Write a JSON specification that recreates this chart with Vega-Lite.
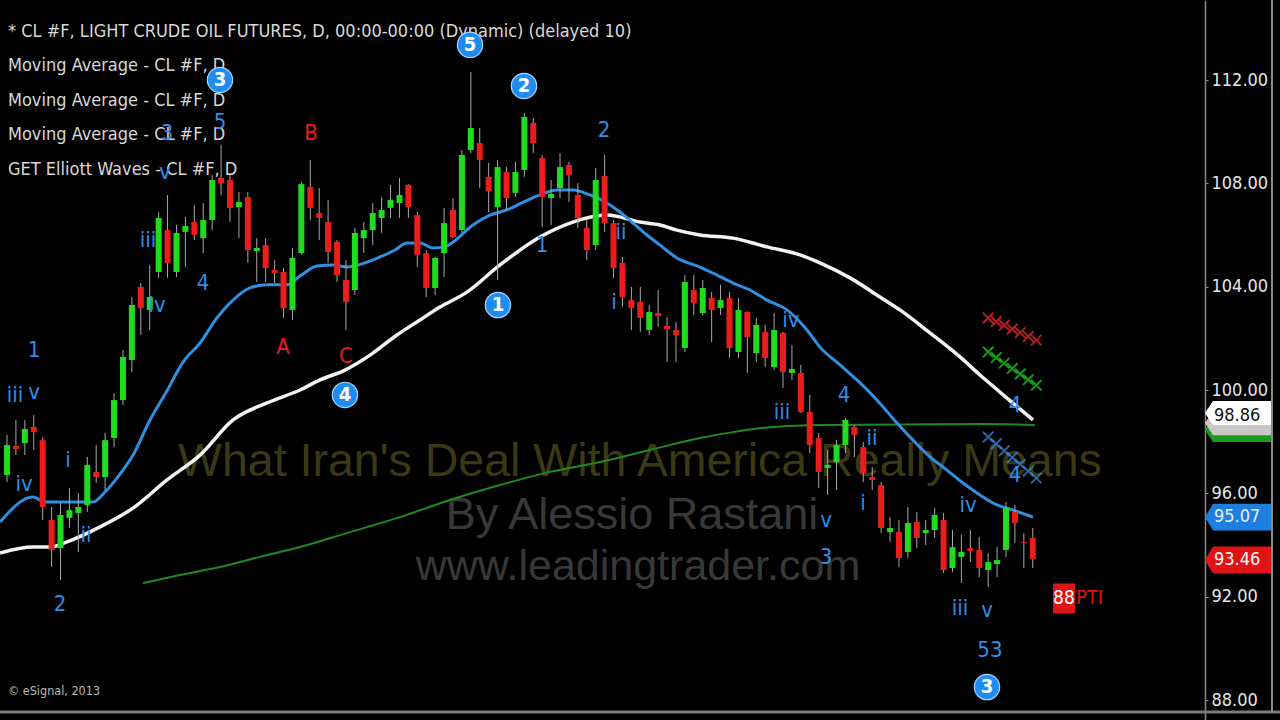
{
"$schema": "https://vega.github.io/schema/vega-lite/v6.json",
"width": 1205, "height": 720,
"autosize": {"type": "none"},
"padding": {"left": 0, "top": 0, "right": 75, "bottom": 0},
"background": "#000000",
"config": {"view": {"stroke": null}},
"resolve": {"axis": {"y": "independent", "x": "independent"}, "scale": {"color": "independent"}},
"datasets": {
"candles": [
{"i":0,"o":96.71,"h":98.26,"l":96.44,"c":97.87},{"i":1,"o":97.83,"h":98.84,"l":97.48,"c":97.72},{"i":2,"o":97.95,"h":98.84,"l":97.48,"c":98.49},{"i":3,"o":98.57,"h":99.03,"l":97.68,"c":98.37},{"i":4,"o":98.06,"h":98.18,"l":94.97,"c":95.47},{"i":5,"o":94.97,"h":95.47,"l":93.15,"c":93.81},{"i":6,"o":93.88,"h":95.63,"l":92.65,"c":95.16},{"i":7,"o":95.05,"h":96.21,"l":94.66,"c":95.35},{"i":8,"o":95.24,"h":96.01,"l":93.73,"c":95.47},{"i":9,"o":95.55,"h":97.41,"l":95.28,"c":97.10},
{"i":10,"o":96.83,"h":97.87,"l":96.40,"c":96.63},{"i":11,"o":96.63,"h":98.34,"l":96.13,"c":98.06},{"i":12,"o":98.14,"h":99.88,"l":97.79,"c":99.61},{"i":13,"o":99.61,"h":101.55,"l":99.42,"c":101.28},{"i":14,"o":101.16,"h":103.60,"l":100.70,"c":103.29},{"i":15,"o":103.99,"h":104.14,"l":102.13,"c":103.17},{"i":16,"o":103.10,"h":104.84,"l":102.32,"c":103.60},{"i":17,"o":104.57,"h":106.89,"l":104.34,"c":106.66},{"i":18,"o":106.19,"h":107.55,"l":104.34,"c":104.92},{"i":19,"o":104.57,"h":106.39,"l":104.37,"c":106.08},
{"i":20,"o":106.12,"h":106.70,"l":104.76,"c":106.35},{"i":21,"o":106.50,"h":107.16,"l":105.81,"c":106.00},{"i":22,"o":105.88,"h":107.24,"l":105.30,"c":106.58},{"i":23,"o":106.58,"h":108.32,"l":106.19,"c":108.13},{"i":24,"o":108.21,"h":109.48,"l":107.55,"c":108.01},{"i":25,"o":108.13,"h":108.32,"l":106.50,"c":107.05},{"i":26,"o":107.08,"h":107.67,"l":105.88,"c":107.28},{"i":27,"o":107.47,"h":107.67,"l":104.92,"c":105.42},{"i":28,"o":105.38,"h":105.88,"l":104.18,"c":105.50},{"i":29,"o":105.61,"h":105.88,"l":104.18,"c":104.72},
{"i":30,"o":104.65,"h":105.03,"l":104.14,"c":104.53},{"i":31,"o":104.57,"h":104.72,"l":102.79,"c":103.17},{"i":32,"o":103.10,"h":105.50,"l":102.71,"c":105.11},{"i":33,"o":105.30,"h":108.05,"l":105.23,"c":107.97},{"i":34,"o":107.86,"h":108.90,"l":106.58,"c":107.05},{"i":35,"o":106.85,"h":107.82,"l":105.81,"c":106.66},{"i":36,"o":106.50,"h":107.36,"l":104.92,"c":105.34},{"i":37,"o":105.73,"h":105.81,"l":104.18,"c":104.45},{"i":38,"o":104.26,"h":105.03,"l":102.32,"c":103.41},{"i":39,"o":103.87,"h":106.27,"l":103.68,"c":106.08},
{"i":40,"o":105.88,"h":106.50,"l":105.30,"c":106.19},{"i":41,"o":106.19,"h":107.24,"l":105.61,"c":106.85},{"i":42,"o":106.66,"h":107.47,"l":106.08,"c":106.97},{"i":43,"o":107.05,"h":107.94,"l":106.66,"c":107.36},{"i":44,"o":107.24,"h":108.21,"l":106.66,"c":107.55},{"i":45,"o":107.94,"h":107.97,"l":106.66,"c":107.08},{"i":46,"o":106.77,"h":106.89,"l":104.76,"c":105.23},{"i":47,"o":105.30,"h":105.42,"l":103.60,"c":103.95},{"i":48,"o":103.95,"h":105.15,"l":103.68,"c":105.11},{"i":49,"o":105.30,"h":107.05,"l":104.37,"c":106.46},
{"i":50,"o":106.97,"h":107.43,"l":105.88,"c":105.92},{"i":51,"o":106.19,"h":109.29,"l":106.08,"c":109.10},{"i":52,"o":109.29,"h":112.31,"l":109.17,"c":110.14},{"i":53,"o":109.56,"h":110.14,"l":107.82,"c":108.90},{"i":54,"o":108.25,"h":108.79,"l":106.89,"c":107.70},{"i":55,"o":107.08,"h":108.90,"l":104.26,"c":108.63},{"i":56,"o":108.44,"h":108.63,"l":106.97,"c":107.43},{"i":57,"o":107.63,"h":108.83,"l":107.47,"c":108.44},{"i":58,"o":108.52,"h":110.72,"l":108.25,"c":110.57},{"i":59,"o":110.34,"h":110.53,"l":109.17,"c":109.56},
{"i":60,"o":108.98,"h":109.10,"l":106.31,"c":107.47},{"i":61,"o":107.43,"h":108.13,"l":106.39,"c":107.59},{"i":62,"o":107.82,"h":109.17,"l":107.43,"c":108.63},{"i":63,"o":108.71,"h":108.83,"l":107.28,"c":108.32},{"i":64,"o":107.55,"h":108.01,"l":106.27,"c":106.66},{"i":65,"o":106.27,"h":106.58,"l":105.03,"c":105.42},{"i":66,"o":105.61,"h":108.59,"l":105.42,"c":108.13},{"i":67,"o":108.28,"h":109.10,"l":106.12,"c":106.46},{"i":68,"o":106.46,"h":106.58,"l":104.34,"c":104.72},{"i":69,"o":104.92,"h":105.15,"l":103.21,"c":103.60},
{"i":70,"o":103.48,"h":103.99,"l":102.32,"c":103.17},{"i":71,"o":103.41,"h":103.99,"l":102.25,"c":102.79},{"i":72,"o":102.32,"h":103.29,"l":102.13,"c":103.02},{"i":73,"o":102.98,"h":103.87,"l":102.44,"c":102.86},{"i":74,"o":102.48,"h":102.83,"l":101.08,"c":102.36},{"i":75,"o":102.32,"h":102.63,"l":101.08,"c":102.13},{"i":76,"o":101.63,"h":104.45,"l":101.47,"c":104.18},{"i":77,"o":103.87,"h":104.45,"l":102.90,"c":103.37},{"i":78,"o":102.98,"h":104.26,"l":102.90,"c":103.95},{"i":79,"o":103.56,"h":103.79,"l":101.86,"c":103.10},
{"i":80,"o":103.17,"h":104.07,"l":102.90,"c":103.48},{"i":81,"o":103.56,"h":103.79,"l":101.24,"c":101.63},{"i":82,"o":101.47,"h":103.56,"l":101.24,"c":103.10},{"i":83,"o":103.02,"h":103.05,"l":100.66,"c":102.05},{"i":84,"o":101.43,"h":102.79,"l":101.08,"c":102.52},{"i":85,"o":102.25,"h":102.52,"l":100.89,"c":101.24},{"i":86,"o":100.89,"h":102.98,"l":100.77,"c":102.32},{"i":87,"o":102.21,"h":102.25,"l":100.08,"c":100.70},{"i":88,"o":100.66,"h":101.74,"l":100.39,"c":100.81},{"i":89,"o":100.66,"h":100.97,"l":99.11,"c":99.15},
{"i":90,"o":99.15,"h":99.81,"l":97.56,"c":97.87},{"i":91,"o":98.14,"h":98.34,"l":96.21,"c":96.83},{"i":92,"o":96.98,"h":97.68,"l":95.94,"c":97.10},{"i":93,"o":97.21,"h":98.06,"l":96.13,"c":97.87},{"i":94,"o":97.87,"h":98.92,"l":97.56,"c":98.84},{"i":95,"o":98.57,"h":98.65,"l":97.41,"c":98.26},{"i":96,"o":97.79,"h":97.99,"l":96.44,"c":96.79},{"i":97,"o":96.63,"h":97.02,"l":96.13,"c":96.52},{"i":98,"o":96.32,"h":96.44,"l":94.46,"c":94.66},{"i":99,"o":94.50,"h":95.08,"l":94.12,"c":94.66},
{"i":100,"o":94.50,"h":94.97,"l":93.15,"c":93.50},{"i":101,"o":93.73,"h":95.47,"l":93.50,"c":94.85},{"i":102,"o":94.89,"h":95.28,"l":93.88,"c":94.27},{"i":103,"o":94.46,"h":94.97,"l":94.00,"c":94.58},{"i":104,"o":94.58,"h":95.43,"l":94.27,"c":95.16},{"i":105,"o":94.97,"h":95.24,"l":92.92,"c":93.03},{"i":106,"o":93.11,"h":94.58,"l":92.95,"c":93.92},{"i":107,"o":93.54,"h":94.39,"l":92.53,"c":93.73},{"i":108,"o":93.88,"h":94.58,"l":93.34,"c":93.77},{"i":109,"o":93.81,"h":94.31,"l":92.76,"c":93.11},
{"i":110,"o":93.03,"h":93.69,"l":92.37,"c":93.34},{"i":111,"o":93.26,"h":93.92,"l":92.76,"c":93.42},{"i":112,"o":93.81,"h":95.66,"l":93.54,"c":95.43},{"i":113,"o":95.28,"h":95.55,"l":94.08,"c":94.85},{"i":114,"o":94.12,"h":94.46,"l":93.11,"c":94.08},{"i":115,"o":94.27,"h":94.66,"l":93.11,"c":93.46}
],
"blue": [
{"i":-0.78,"v":94.89},{"i":2.91,"v":95.86},{"i":4.26,"v":95.66},{"i":9.64,"v":95.66},{"i":10.99,"v":96.05},{"i":12.33,"v":96.59},{"i":14.13,"v":97.48},{"i":16.03,"v":98.84},{"i":17.94,"v":99.97},{"i":19.73,"v":101.08},{"i":21.64,"v":101.82},{"i":23.54,"v":102.79},{"i":25.34,"v":103.48},{"i":27.24,"v":103.95},{"i":29.15,"v":104.07},{"i":31.39,"v":104.07},{"i":32.85,"v":104.41},{"i":34.75,"v":104.80},{"i":36.55,"v":104.84},{"i":38.12,"v":104.76},{"i":40.13,"v":104.92},{"i":41.82,"v":105.15},{"i":43.50,"v":105.42},{"i":44.84,"v":105.69},{"i":46.30,"v":105.69},{"i":47.76,"v":105.50},{"i":49.10,"v":105.54},{"i":50.0,"v":105.73},{"i":52.24,"v":106.39},{"i":54.15,"v":106.77},{"i":56.05,"v":106.97},{"i":57.96,"v":107.28},{"i":59.75,"v":107.55},{"i":61.66,"v":107.74},{"i":63.45,"v":107.74},{"i":65.36,"v":107.55},{"i":67.26,"v":107.24},{"i":68.72,"v":106.89},{"i":70.18,"v":106.46},{"i":71.75,"v":106.00},{"i":73.21,"v":105.61},{"i":75.11,"v":105.11},{"i":77.69,"v":104.76},{"i":79.60,"v":104.45},{"i":81.39,"v":104.14},{"i":83.30,"v":103.87},{"i":85.20,"v":103.48},{"i":87.44,"v":103.10},{"i":89.69,"v":102.32},{"i":91.14,"v":101.66},{"i":93.39,"v":100.97},{"i":95.29,"v":100.39},{"i":97.53,"v":99.61},{"i":99.78,"v":98.72},{"i":101.57,"v":98.06},{"i":103.48,"v":97.41},{"i":105.38,"v":96.90},{"i":107.17,"v":96.40},{"i":109.08,"v":95.94},{"i":110.99,"v":95.55},{"i":112.44,"v":95.39},{"i":115.02,"v":95.08}
],
"white": [
{"i":-0.78,"v":93.69},{"i":2.91,"v":93.92},{"i":4.82,"v":93.92},{"i":6.73,"v":94.12},{"i":10.43,"v":94.70},{"i":14.13,"v":95.43},{"i":17.94,"v":96.52},{"i":21.64,"v":97.48},{"i":25.34,"v":98.84},{"i":29.15,"v":99.50},{"i":32.85,"v":100.00},{"i":35.09,"v":100.39},{"i":37.89,"v":100.77},{"i":40.70,"v":101.35},{"i":43.72,"v":102.13},{"i":46.30,"v":102.71},{"i":48.54,"v":103.21},{"i":51.57,"v":103.79},{"i":55.27,"v":104.84},{"i":59.75,"v":105.92},{"i":63.45,"v":106.50},{"i":67.26,"v":106.77},{"i":70.96,"v":106.50},{"i":73.21,"v":106.39},{"i":75.11,"v":106.19},{"i":77.69,"v":106.00},{"i":81.39,"v":105.88},{"i":85.20,"v":105.54},{"i":88.90,"v":105.23},{"i":91.14,"v":104.92},{"i":94.51,"v":104.34},{"i":97.87,"v":103.60},{"i":100.11,"v":103.10},{"i":103.48,"v":102.21},{"i":106.84,"v":101.28},{"i":109.08,"v":100.58},{"i":111.32,"v":99.92},{"i":115.02,"v":98.84}
],
"green": [
{"i":15.25,"v":92.53},{"i":19.39,"v":92.84},{"i":23.88,"v":93.15},{"i":28.36,"v":93.54},{"i":32.85,"v":93.92},{"i":38.45,"v":94.50},{"i":44.06,"v":95.08},{"i":49.66,"v":95.74},{"i":55.27,"v":96.32},{"i":60.87,"v":96.83},{"i":66.48,"v":97.21},{"i":72.09,"v":97.68},{"i":77.69,"v":98.14},{"i":81.39,"v":98.37},{"i":85.87,"v":98.57},{"i":91.14,"v":98.65},{"i":109.08,"v":98.68},{"i":115.25,"v":98.65}
],
"waveBlue": [
{"i":3.03,"p":101.55,"t":"1"},{"i":0.90,"p":99.81,"t":"iii"},{"i":3.03,"p":99.92,"t":"v"},{"i":1.91,"p":96.36,"t":"iv"},{"i":6.84,"p":97.29,"t":"i"},{"i":8.86,"p":94.39,"t":"ii"},{"i":5.94,"p":91.72,"t":"2"},{"i":15.81,"p":105.81,"t":"iii"},{"i":16.82,"p":103.29,"t":"iv"},{"i":21.97,"p":104.14,"t":"4"},{"i":17.94,"p":109.95,"t":"3"},{"i":23.88,"p":110.37,"t":"5"},{"i":17.71,"p":108.44,"t":"v"},{"i":66.93,"p":110.06,"t":"2"},{"i":59.98,"p":105.61,"t":"1"},{"i":68.83,"p":106.12,"t":"ii"},{"i":68.05,"p":103.41,"t":"i"},{"i":87.89,"p":102.71,"t":"iv"},{"i":86.88,"p":99.15,"t":"iii"},{"i":93.83,"p":99.81,"t":"4"},{"i":96.97,"p":98.14,"t":"ii"},{"i":95.96,"p":95.63,"t":"i"},{"i":91.82,"p":94.97,"t":"v"},{"i":91.82,"p":93.54,"t":"3"},{"i":107.74,"p":95.55,"t":"iv"},{"i":106.84,"p":91.56,"t":"iii"},{"i":109.87,"p":91.48,"t":"v"},{"i":110.20,"p":89.93,"t":"53"},{"i":113.0,"p":99.42,"t":"4"},{"i":113.0,"p":96.71,"t":"4"}
],
"waveRed": [
{"i":34.08,"p":109.95,"t":"B"},{"i":30.94,"p":101.66,"t":"A"},{"i":38.0,"p":101.32,"t":"C"}
],
"circles": [
{"i":23.88,"p":112.0,"t":"3"},{"i":51.91,"p":113.36,"t":"5"},{"i":57.96,"p":111.77,"t":"2"},{"i":55.04,"p":103.29,"t":"1"},{"i":37.89,"p":99.81,"t":"4"},{"i":109.87,"p":88.50,"t":"3"}
],
"crosses": [
{"i":110.0,"p":102.79,"s":"r"},{"i":110.9,"p":102.65,"s":"r"},{"i":111.8,"p":102.51,"s":"r"},{"i":112.7,"p":102.36,"s":"r"},{"i":113.6,"p":102.22,"s":"r"},{"i":114.5,"p":102.07,"s":"r"},{"i":115.4,"p":101.93,"s":"r"},
{"i":110.0,"p":101.47,"s":"g"},{"i":110.9,"p":101.26,"s":"g"},{"i":111.8,"p":101.04,"s":"g"},{"i":112.7,"p":100.83,"s":"g"},{"i":113.6,"p":100.62,"s":"g"},{"i":114.5,"p":100.40,"s":"g"},{"i":115.4,"p":100.19,"s":"g"},
{"i":110.0,"p":98.18,"s":"b"},{"i":110.9,"p":97.92,"s":"b"},{"i":111.8,"p":97.65,"s":"b"},{"i":112.7,"p":97.39,"s":"b"},{"i":113.6,"p":97.12,"s":"b"},{"i":114.5,"p":96.86,"s":"b"},{"i":115.4,"p":96.59,"s":"b"}
]
},
"layer": [
{"data": {"values": [{}]},
 "mark": {"type": "text", "align": "left", "baseline": "alphabetic", "font": "DejaVu Sans Condensed, Liberation Sans, sans-serif", "fontSize": 18, "lineHeight": 34.5, "color": "#d8d8d8"},
 "encoding": {"x": {"datum": 0.11, "type": "quantitative", "scale": {"domain": [-0.785, 134.31], "nice": false, "zero": false, "padding": 0}, "axis": null},
  "y": {"datum": 113.684, "type": "quantitative", "scale": {"domain": [87.226, 115.097], "nice": false, "zero": false, "padding": 0}, "axis": null},
  "text": {"value": ["* CL #F, LIGHT CRUDE OIL FUTURES, D, 00:00-00:00 (Dynamic) (delayed 10)", "Moving Average - CL #F, D", "Moving Average - CL #F, D", "Moving Average - CL #F, D", "GET Elliott Waves - CL #F, D"]}}},
{"data": {"values": [{}]},
 "mark": {"type": "text", "align": "center", "baseline": "middle", "font": "Liberation Sans, Arial, sans-serif", "fontSize": 46.5, "color": "#3b3915"},
 "encoding": {"x": {"datum": 70.96, "type": "quantitative", "axis": null}, "y": {"datum": 97.21, "type": "quantitative", "axis": null}, "text": {"value": "What Iran's Deal With America Really Means"}}},
{"data": {"values": [{}]},
 "mark": {"type": "text", "align": "center", "baseline": "middle", "font": "Liberation Sans, Arial, sans-serif", "fontSize": 45, "color": "#383838"},
 "encoding": {"x": {"datum": 70.07, "type": "quantitative", "axis": null}, "y": {"datum": 95.16, "type": "quantitative", "axis": null}, "text": {"value": "By Alessio Rastani"}}},
{"data": {"values": [{}]},
 "mark": {"type": "text", "align": "center", "baseline": "middle", "font": "Liberation Sans, Arial, sans-serif", "fontSize": 43, "color": "#383838"},
 "encoding": {"x": {"datum": 70.74, "type": "quantitative", "axis": null}, "y": {"datum": 93.15, "type": "quantitative", "axis": null}, "text": {"value": "www.leadingtrader.com"}}},
{"data": {"name": "green"},
 "mark": {"type": "line", "color": "#1f8a1f", "strokeWidth": 2, "interpolate": "monotone"},
 "encoding": {"x": {"field": "i", "type": "quantitative", "axis": null}, "y": {"field": "v", "type": "quantitative", "axis": null}}},
{"data": {"name": "white"},
 "mark": {"type": "line", "color": "#f2f2f2", "strokeWidth": 3.5, "interpolate": "monotone"},
 "encoding": {"x": {"field": "i", "type": "quantitative", "axis": null}, "y": {"field": "v", "type": "quantitative", "axis": null}}},
{"data": {"name": "blue"},
 "mark": {"type": "line", "color": "#2f8fe0", "strokeWidth": 3, "interpolate": "monotone"},
 "encoding": {"x": {"field": "i", "type": "quantitative", "axis": null}, "y": {"field": "v", "type": "quantitative", "axis": null}}},
{"data": {"name": "candles"},
 "mark": {"type": "rule", "color": "#a8a8a8", "strokeWidth": 1},
 "encoding": {"x": {"field": "i", "type": "quantitative", "axis": null},
  "y": {"field": "l", "type": "quantitative", "axis": {"orient": "right", "values": [88, 92, 96, 100, 104, 108, 112], "format": ".2f", "title": null, "grid": false, "domainColor": "#8a8a8a", "domainWidth": 1.5, "tickColor": "#8a8a8a", "tickSize": 3, "labelPadding": 3, "labelColor": "#e6e6e6", "labelFontSize": 18, "labelFont": "DejaVu Sans Condensed, Liberation Sans, sans-serif"}},
  "y2": {"field": "h"}}},
{"data": {"name": "candles"},
 "mark": {"type": "bar", "width": 6},
 "encoding": {"x": {"field": "i", "type": "quantitative", "scale": {"padding": 0}, "axis": null},
  "y": {"field": "o", "type": "quantitative", "axis": null}, "y2": {"field": "c"},
  "color": {"condition": {"test": "datum.c >= datum.o", "value": "#1fdc1f"}, "value": "#ec1c1c"}}},
{"data": {"name": "crosses"},
 "mark": {"type": "point", "shape": "M-1,-1L1,1M-1,1L1,-1", "filled": false, "size": 110, "strokeWidth": 2},
 "encoding": {"x": {"field": "i", "type": "quantitative", "axis": null}, "y": {"field": "p", "type": "quantitative", "axis": null},
  "color": {"field": "s", "type": "nominal", "scale": {"domain": ["r", "g", "b"], "range": ["#ff2a2a", "#22dd22", "#3a8fe8"]}, "legend": null}}},
{"data": {"name": "waveBlue"},
 "mark": {"type": "text", "align": "center", "baseline": "middle", "font": "DejaVu Sans Condensed, Liberation Sans, sans-serif", "fontSize": 22, "color": "#2f8fea"},
 "encoding": {"x": {"field": "i", "type": "quantitative", "axis": null}, "y": {"field": "p", "type": "quantitative", "axis": null}, "text": {"field": "t"}}},
{"data": {"name": "waveRed"},
 "mark": {"type": "text", "align": "center", "baseline": "middle", "font": "DejaVu Sans Condensed, Liberation Sans, sans-serif", "fontSize": 22, "color": "#e81c1c"},
 "encoding": {"x": {"field": "i", "type": "quantitative", "axis": null}, "y": {"field": "p", "type": "quantitative", "axis": null}, "text": {"field": "t"}}},
{"data": {"name": "circles"},
 "mark": {"type": "point", "shape": "circle", "filled": true, "size": 640, "color": "#1e8cf0", "stroke": "#a8d6ff", "strokeWidth": 1.2, "opacity": 1},
 "encoding": {"x": {"field": "i", "type": "quantitative", "axis": null}, "y": {"field": "p", "type": "quantitative", "axis": null}}},
{"data": {"name": "circles"},
 "mark": {"type": "text", "align": "center", "baseline": "middle", "font": "DejaVu Sans Condensed, Liberation Sans, sans-serif", "fontSize": 20, "fontWeight": "bold", "color": "#ffffff"},
 "encoding": {"x": {"field": "i", "type": "quantitative", "axis": null}, "y": {"field": "p", "type": "quantitative", "axis": null}, "text": {"field": "t"}}},
{"data": {"values": [{}]},
 "mark": {"type": "point", "shape": "M-1,0L-0.76,-0.36L1,-0.36L1,0.36L-0.76,0.36Z", "filled": true, "size": 4489, "color": "#1c9a1c", "opacity": 1},
 "encoding": {"x": {"datum": 138.06, "type": "quantitative", "axis": null}, "y": {"datum": 98.45, "type": "quantitative", "axis": null}}},
{"data": {"values": [{}]},
 "mark": {"type": "point", "shape": "M-1,0L-0.76,-0.36L1,-0.36L1,0.36L-0.76,0.36Z", "filled": true, "size": 4489, "color": "#c8c8c8", "opacity": 1},
 "encoding": {"x": {"datum": 138.06, "type": "quantitative", "axis": null}, "y": {"datum": 98.72, "type": "quantitative", "axis": null}}},
{"data": {"values": [{}]},
 "mark": {"type": "point", "shape": "M-1,0L-0.76,-0.36L1,-0.36L1,0.36L-0.76,0.36Z", "filled": true, "size": 4489, "color": "#ffffff", "opacity": 1},
 "encoding": {"x": {"datum": 138.06, "type": "quantitative", "axis": null}, "y": {"datum": 99.11, "type": "quantitative", "axis": null}}},
{"data": {"values": [{}]},
 "mark": {"type": "point", "shape": "M-1,0L-0.76,-0.4L1,-0.4L1,0.4L-0.76,0.4Z", "filled": true, "size": 4489, "color": "#1e7fe0", "opacity": 1},
 "encoding": {"x": {"datum": 138.06, "type": "quantitative", "axis": null}, "y": {"datum": 95.08, "type": "quantitative", "axis": null}}},
{"data": {"values": [{}]},
 "mark": {"type": "point", "shape": "M-1,0L-0.76,-0.4L1,-0.4L1,0.4L-0.76,0.4Z", "filled": true, "size": 4489, "color": "#e01414", "opacity": 1},
 "encoding": {"x": {"datum": 138.06, "type": "quantitative", "axis": null}, "y": {"datum": 93.42, "type": "quantitative", "axis": null}}},
{"data": {"values": [{}]},
 "mark": {"type": "text", "align": "left", "baseline": "middle", "font": "DejaVu Sans Condensed, Liberation Sans, sans-serif", "fontSize": 18, "color": "#111111"},
 "encoding": {"x": {"datum": 135.31, "type": "quantitative", "axis": null}, "y": {"datum": 99.0, "type": "quantitative", "axis": null}, "text": {"value": "98.86"}}},
{"data": {"values": [{}]},
 "mark": {"type": "text", "align": "left", "baseline": "middle", "font": "DejaVu Sans Condensed, Liberation Sans, sans-serif", "fontSize": 18, "color": "#e8f0ff"},
 "encoding": {"x": {"datum": 135.31, "type": "quantitative", "axis": null}, "y": {"datum": 95.08, "type": "quantitative", "axis": null}, "text": {"value": "95.07"}}},
{"data": {"values": [{}]},
 "mark": {"type": "text", "align": "left", "baseline": "middle", "font": "DejaVu Sans Condensed, Liberation Sans, sans-serif", "fontSize": 18, "color": "#ffffff"},
 "encoding": {"x": {"datum": 135.31, "type": "quantitative", "axis": null}, "y": {"datum": 93.42, "type": "quantitative", "axis": null}, "text": {"value": "93.46"}}},
{"data": {"values": [{}]},
 "mark": {"type": "point", "shape": "M-0.73,-1L0.73,-1L0.73,1L-0.73,1Z", "filled": true, "size": 900, "color": "#e01414", "opacity": 1},
 "encoding": {"x": {"datum": 118.5, "type": "quantitative", "axis": null}, "y": {"datum": 91.93, "type": "quantitative", "axis": null}}},
{"data": {"values": [{}]},
 "mark": {"type": "text", "align": "center", "baseline": "middle", "font": "DejaVu Sans Condensed, Liberation Sans, sans-serif", "fontSize": 19, "color": "#ffffff"},
 "encoding": {"x": {"datum": 118.5, "type": "quantitative", "axis": null}, "y": {"datum": 91.93, "type": "quantitative", "axis": null}, "text": {"value": "88"}}},
{"data": {"values": [{}]},
 "mark": {"type": "text", "align": "left", "baseline": "middle", "font": "DejaVu Sans Condensed, Liberation Sans, sans-serif", "fontSize": 20, "color": "#e01414"},
 "encoding": {"x": {"datum": 119.85, "type": "quantitative", "axis": null}, "y": {"datum": 91.93, "type": "quantitative", "axis": null}, "text": {"value": "PTI"}}},
{"data": {"values": [{}]},
 "mark": {"type": "text", "align": "left", "baseline": "middle", "font": "DejaVu Sans Condensed, Liberation Sans, sans-serif", "fontSize": 12.5, "color": "#b8b8b8"},
 "encoding": {"x": {"datum": 0.11, "type": "quantitative", "axis": null}, "y": {"datum": 88.35, "type": "quantitative", "axis": null}, "text": {"value": "© eSignal, 2013"}}},
{"data": {"values": [{}]},
 "mark": {"type": "rule", "color": "#7a7a7a", "strokeWidth": 3},
 "encoding": {"x": {"datum": -0.785, "type": "quantitative", "axis": null}, "x2": {"datum": 142.71}, "y": {"datum": 87.536, "type": "quantitative", "axis": null}}},
{"data": {"values": [{}]},
 "mark": {"type": "rule", "color": "#8a8a8a", "strokeWidth": 2},
 "encoding": {"x": {"datum": 141.82, "type": "quantitative", "axis": null}, "y": {"datum": 115.097, "type": "quantitative", "axis": null}, "y2": {"datum": 87.536}}}
]
}
